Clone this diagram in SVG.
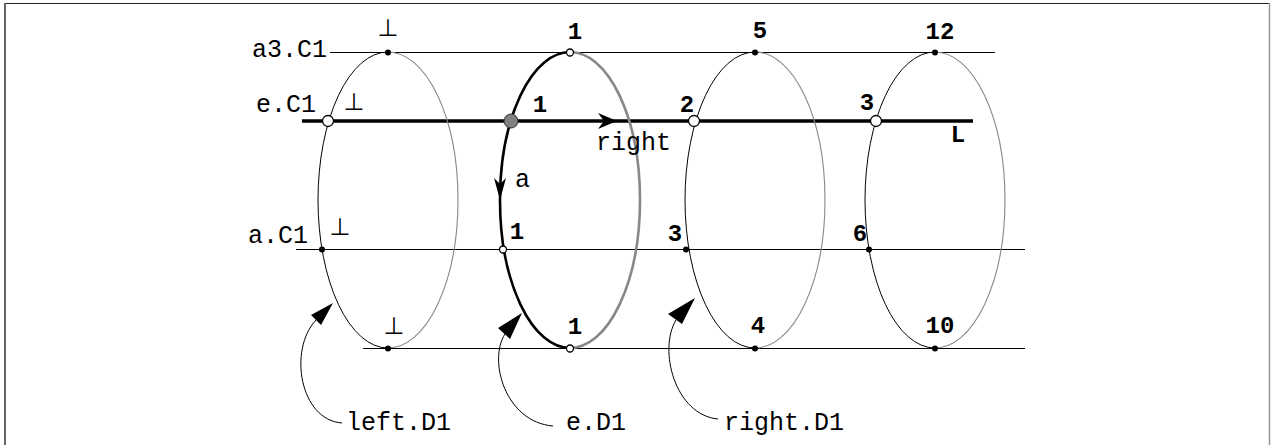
<svg xmlns="http://www.w3.org/2000/svg" width="1271" height="445" viewBox="0 0 1271 445">
<style>
.lbl{font-family:"Liberation Mono","DejaVu Sans Mono",monospace;font-size:25px;fill:#000}
.perp{font-family:"DejaVu Sans","Liberation Sans",sans-serif;font-size:24px;fill:#000}
.num{font-family:"Liberation Mono","DejaVu Sans Mono",monospace;font-size:24px;font-weight:bold;fill:#000}
.thin{fill:none;stroke:#000;stroke-width:1}
.thinG{fill:none;stroke:#888;stroke-width:1.1}
.thick{fill:none;stroke:#000;stroke-width:2.6}
.thickG{fill:none;stroke:#888;stroke-width:2.6}
.dot{fill:#000}
.open{fill:#fff;stroke:#000;stroke-width:1.3}
</style>
<g id="frame">
<line x1="4" y1="3.5" x2="1270" y2="3.5" stroke="#222" stroke-width="1"/>
<line x1="5" y1="3" x2="5" y2="445" stroke="#666" stroke-width="2"/>
<line x1="1269.5" y1="3" x2="1269.5" y2="445" stroke="#999" stroke-width="1.5"/>
</g>
<g id="connectors">
<line x1="330" y1="52.5" x2="995" y2="52.5" class="thin"/>
<line x1="302" y1="121" x2="973" y2="121" stroke="#000" stroke-width="3.5"/>
<line x1="296" y1="249.5" x2="1025" y2="249.5" class="thin"/>
<line x1="363" y1="348.5" x2="1025" y2="348.5" class="thin"/>
<polygon points="617,121 598,113 604,121 598,129" fill="#000"/>
<path d="M342,423 C300,420 288,350 316,320" class="thin"/>
<polygon points="333,303 311,315 321,325" fill="#000"/>
<path d="M553,426 C505,422 488,360 505,334" class="thin"/>
<polygon points="522,313 498,328 510,339" fill="#000"/>
<path d="M718,419 C675,415 658,350 676,320" class="thin"/>
<polygon points="695,298 668,314 682,324" fill="#000"/>
</g>
<g id="left-D1">
<path d="M388,52 A70,148 0 0 0 388,348" class="thin"/>
<path d="M388,52 A70,148 0 0 1 388,348" class="thinG"/>
</g>
<g id="e-D1">
<path d="M570,52 A70,148 0 0 0 570,348" class="thick"/>
<path d="M570,52 A70,148 0 0 1 570,348" class="thickG"/>
<polygon points="500,200 494,178 500,184 506,178" fill="#000"/>
</g>
<g id="right-D1">
<path d="M755,52 A70,148 0 0 0 755,348" class="thin"/>
<path d="M755,52 A70,148 0 0 1 755,348" class="thinG"/>
</g>
<g id="D4">
<path d="M935,52 A70,148 0 0 0 935,348" class="thin"/>
<path d="M935,52 A70,148 0 0 1 935,348" class="thinG"/>
</g>
<g id="points">
<circle cx="388" cy="52.5" r="3" class="dot"/>
<circle cx="570" cy="52.5" r="3.5" class="open"/>
<circle cx="755" cy="52.5" r="3" class="dot"/>
<circle cx="935" cy="52.5" r="3" class="dot"/>
<circle cx="328" cy="121" r="5.5" class="open"/>
<circle cx="511" cy="121" r="7" fill="#808080" stroke="#333" stroke-width="1"/>
<circle cx="694" cy="121" r="5.5" class="open"/>
<circle cx="876" cy="121" r="5.5" class="open"/>
<circle cx="322" cy="249.5" r="3" class="dot"/>
<circle cx="503" cy="249.5" r="3.5" class="open"/>
<circle cx="686" cy="249.5" r="3" class="dot"/>
<circle cx="869" cy="249.5" r="3" class="dot"/>
<circle cx="388" cy="348.5" r="3" class="dot"/>
<circle cx="570" cy="348.5" r="3.5" class="open"/>
<circle cx="755" cy="348.5" r="3" class="dot"/>
<circle cx="935" cy="348.5" r="3" class="dot"/>
</g>
<g id="labels">
<text x="252" y="57" class="lbl">a3.C1</text>
<text x="256" y="112" class="lbl">e.C1</text>
<text x="248" y="243" class="lbl">a.C1</text>
<text x="596" y="150" class="lbl">right</text>
<text x="515" y="187" class="lbl">a</text>
<text x="346" y="430" class="lbl">left.D1</text>
<text x="566" y="430" class="lbl">e.D1</text>
<text x="724" y="430" class="lbl">right.D1</text>
<text x="388" y="36" class="perp" text-anchor="middle">⊥</text>
<text x="354" y="110" class="perp" text-anchor="middle">⊥</text>
<text x="340" y="235" class="perp" text-anchor="middle">⊥</text>
<text x="394" y="334" class="perp" text-anchor="middle">⊥</text>
<text x="575" y="39" class="num" text-anchor="middle">1</text>
<text x="760" y="38" class="num" text-anchor="middle">5</text>
<text x="940" y="39" class="num" text-anchor="middle">12</text>
<text x="540" y="112" class="num" text-anchor="middle">1</text>
<text x="687" y="112" class="num" text-anchor="middle">2</text>
<text x="867" y="110" class="num" text-anchor="middle">3</text>
<text x="958" y="142" class="num" text-anchor="middle">L</text>
<text x="517" y="239" class="num" text-anchor="middle">1</text>
<text x="675" y="241" class="num" text-anchor="middle">3</text>
<text x="860" y="241" class="num" text-anchor="middle">6</text>
<text x="575" y="334" class="num" text-anchor="middle">1</text>
<text x="758" y="333" class="num" text-anchor="middle">4</text>
<text x="940" y="333" class="num" text-anchor="middle">10</text>
</g>
</svg>
